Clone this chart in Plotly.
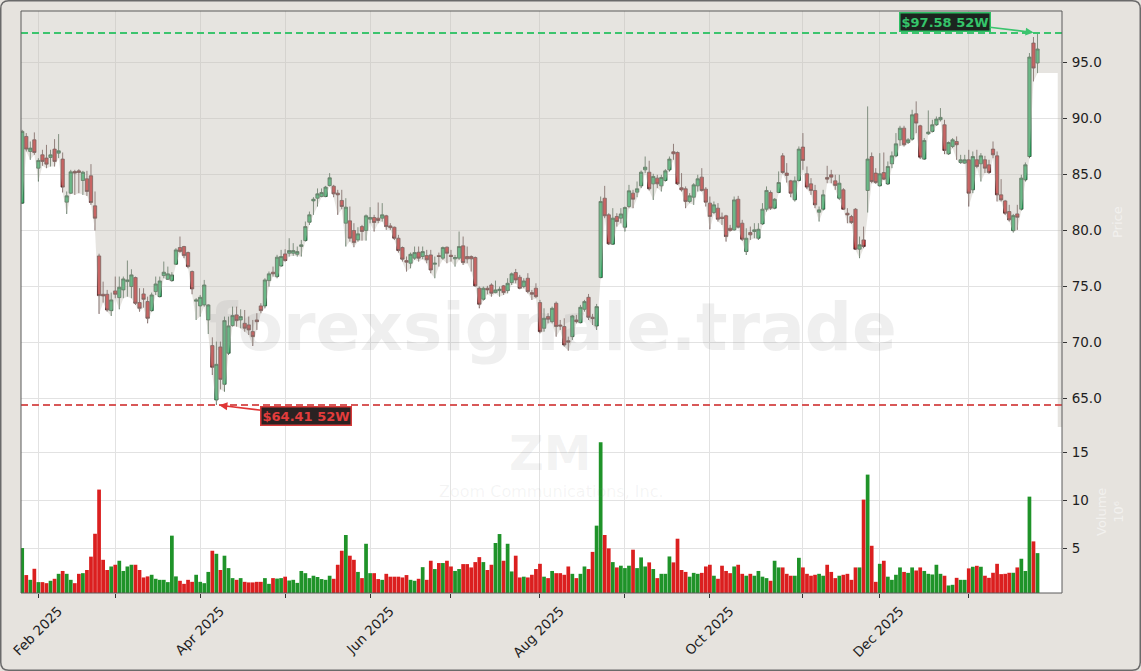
import pandas as pd
import plotly.graph_objects as go

# ---------------- data (ZM daily) ----------------
HOLIDAYS = ["2025-02-17", "2025-04-18", "2025-05-26", "2025-06-19", "2025-07-04",
            "2025-09-01", "2025-11-27", "2025-12-25", "2026-01-01", "2026-01-19"]
dates = pd.bdate_range("2025-01-28", "2026-01-28", freq="C", holidays=HOLIDAYS)

open_ = [
    82.41, 88.36, 87.02, 88.06, 85.53, 86.72, 86.43, 86.48, 87.23, 86.87,
    86.34, 82.50, 83.30, 85.23, 85.29, 84.43, 84.58, 84.85, 82.17, 77.70,
    74.28, 74.28, 72.82, 74.58, 73.98, 74.67, 75.41, 74.97, 75.77, 73.54,
    74.31, 73.63, 72.82, 74.52, 74.07, 75.95, 75.62, 75.50, 76.96, 78.45,
    78.54, 78.00, 76.31, 73.66, 73.24, 73.33, 71.99, 69.70, 64.85, 69.58,
    66.25, 69.02, 71.49, 72.44, 71.99, 71.69, 71.55, 70.95, 71.99, 73.24,
    73.24, 75.50, 76.25, 75.86, 76.81, 77.88, 77.94, 77.94, 77.85, 78.54,
    79.07, 80.71, 82.61, 82.85, 83.00, 83.00, 83.98, 83.92, 83.30, 82.65,
    80.62, 80.83, 79.97, 79.13, 80.32, 79.97, 80.98, 81.13, 81.07, 81.07,
    81.28, 80.38, 80.26, 79.28, 78.45, 77.29, 77.05, 77.50, 78.03, 77.65,
    77.73, 77.79, 76.96, 77.73, 77.50, 78.48, 77.76, 77.44, 77.50, 78.60,
    77.65, 77.65, 77.56, 74.82, 73.84, 74.82, 75.11, 74.43, 74.61, 75.03,
    74.61, 75.32, 76.22, 75.80, 74.97, 75.71, 74.43, 74.82, 73.54, 71.25,
    72.29, 71.84, 73.48, 71.54, 71.40, 70.14, 70.50, 71.99, 71.75, 72.94,
    74.01, 72.23, 71.45, 75.77, 82.85, 81.37, 78.75, 81.22, 81.07, 80.26,
    82.11, 83.30, 83.39, 83.95, 85.38, 85.17, 84.13, 84.64, 83.95, 84.43,
    85.38, 86.99, 86.93, 83.78, 83.69, 82.56, 82.94, 83.95, 84.73, 83.66,
    82.41, 81.57, 81.96, 81.16, 81.28, 80.17, 80.03, 82.76, 80.62, 78.09,
    79.79, 79.88, 79.28, 80.56, 81.87, 83.36, 81.96, 83.36, 86.63, 85.09,
    84.40, 82.71, 84.43, 87.41, 85.03, 84.13, 83.54, 81.60, 81.87, 84.70,
    84.94, 84.40, 82.85, 83.60, 81.51, 81.21, 81.87, 78.30, 79.13, 83.54,
    86.57, 85.09, 83.96, 85.14, 84.13, 85.92, 86.63, 88.06, 89.10, 87.83,
    88.12, 90.38, 89.31, 86.34, 88.60, 88.81, 89.40, 89.85, 89.40, 86.81,
    87.47, 87.91, 86.04, 85.98, 86.28, 83.60, 86.28, 85.92, 86.28, 85.83,
    87.23, 86.63, 83.15, 82.61, 81.66, 79.96, 81.45, 81.87, 84.49, 86.57,
    96.69, 94.91,
]
high = [
    88.95, 88.66, 87.91, 88.72, 86.42, 87.17, 87.61, 87.17, 88.12, 88.57,
    86.93, 83.45, 85.38, 85.38, 85.44, 85.29, 85.29, 85.89, 83.45, 77.90,
    75.41, 74.67, 74.43, 75.86, 75.86, 75.86, 77.29, 76.51, 75.86, 74.82,
    74.82, 74.07, 74.43, 75.86, 75.86, 77.20, 76.75, 76.25, 78.39, 79.43,
    78.60, 78.09, 76.40, 73.93, 74.22, 75.56, 73.40, 70.44, 70.06, 70.06,
    72.29, 72.29, 73.18, 73.18, 72.94, 72.88, 72.29, 71.99, 72.59, 73.48,
    75.71, 76.31, 76.75, 77.80, 78.24, 78.30, 79.28, 78.84, 78.54, 79.13,
    80.77, 81.66, 82.94, 83.72, 83.72, 83.95, 85.09, 84.04, 83.60, 83.60,
    82.85, 82.11, 80.62, 80.26, 80.47, 81.40, 82.05, 81.37, 82.47, 82.41,
    81.37, 80.62, 80.32, 79.58, 78.54, 77.65, 78.00, 78.54, 78.54, 78.54,
    78.24, 78.24, 77.65, 78.00, 78.54, 78.54, 78.24, 77.79, 79.88, 79.43,
    78.54, 77.75, 77.65, 74.97, 74.97, 75.03, 75.26, 75.50, 74.97, 75.11,
    75.71, 76.22, 76.54, 76.01, 75.71, 76.16, 74.67, 75.26, 73.78, 73.03,
    72.59, 73.18, 73.63, 71.99, 72.14, 70.50, 72.44, 72.44, 73.33, 73.78,
    74.31, 72.53, 73.42, 83.00, 83.95, 81.51, 81.96, 81.51, 81.96, 82.11,
    84.04, 83.60, 84.34, 85.32, 86.57, 86.19, 85.03, 84.94, 84.94, 85.44,
    86.57, 87.70, 87.02, 85.09, 83.90, 83.30, 84.19, 84.94, 85.53, 83.84,
    83.00, 82.56, 82.41, 81.57, 81.37, 80.47, 83.00, 83.06, 80.92, 80.17,
    80.32, 80.62, 80.62, 82.41, 83.90, 83.54, 82.85, 85.24, 86.87, 85.98,
    84.49, 84.79, 87.47, 88.66, 85.68, 84.64, 84.04, 82.11, 83.60, 85.74,
    85.38, 84.94, 84.94, 83.75, 81.96, 81.36, 81.96, 79.43, 80.32, 91.04,
    86.93, 85.53, 86.87, 86.93, 86.13, 87.02, 88.66, 89.31, 89.31, 88.21,
    90.74, 91.49, 89.40, 88.21, 90.68, 89.85, 90.14, 90.89, 89.85, 87.91,
    88.21, 88.36, 86.72, 86.72, 87.17, 87.02, 87.17, 86.87, 86.63, 86.28,
    87.91, 87.02, 84.55, 82.70, 82.26, 81.45, 82.26, 84.94, 86.04, 95.80,
    97.23, 97.58,
]
low = [
    82.35, 87.02, 86.28, 86.72, 84.34, 85.74, 85.53, 85.68, 85.68, 86.43,
    83.36, 81.45, 83.24, 83.15, 83.30, 83.15, 83.06, 82.26, 79.97, 72.53,
    73.54, 72.73, 72.35, 73.93, 72.94, 73.93, 74.07, 73.93, 73.33, 72.73,
    73.09, 71.69, 72.73, 74.22, 74.01, 75.71, 75.56, 75.41, 76.90, 78.00,
    77.50, 76.60, 74.28, 71.99, 72.29, 73.18, 70.74, 67.08, 64.41, 65.80,
    65.59, 68.87, 71.40, 71.40, 71.25, 70.95, 70.65, 69.67, 71.10, 72.59,
    73.03, 74.97, 75.86, 75.71, 76.75, 77.20, 77.65, 77.71, 77.65, 77.65,
    78.99, 80.47, 81.37, 82.11, 82.94, 82.94, 83.90, 82.94, 81.37, 81.87,
    78.54, 78.98, 78.48, 78.98, 79.07, 79.07, 80.62, 79.88, 80.62, 80.77,
    80.03, 80.03, 79.13, 78.00, 77.20, 76.31, 76.60, 77.35, 77.20, 77.41,
    77.05, 76.16, 75.71, 76.75, 77.35, 77.05, 77.20, 76.75, 77.35, 76.90,
    77.05, 76.31, 74.97, 73.03, 73.72, 74.28, 74.07, 74.37, 74.07, 74.22,
    74.37, 75.11, 75.26, 74.73, 74.82, 74.37, 73.78, 73.93, 70.80, 70.95,
    71.69, 71.69, 70.50, 71.10, 69.61, 69.25, 70.21, 71.69, 71.69, 72.73,
    71.99, 71.54, 71.10, 75.71, 81.07, 78.69, 78.69, 80.32, 80.62, 79.88,
    81.96, 81.96, 82.94, 83.75, 85.09, 83.54, 82.70, 83.75, 83.45, 84.34,
    85.23, 86.28, 84.04, 83.45, 81.96, 82.41, 82.26, 83.45, 83.45, 82.11,
    80.08, 81.45, 80.77, 80.47, 78.98, 79.88, 79.97, 80.17, 79.04, 77.79,
    79.13, 79.28, 79.13, 80.47, 81.66, 81.81, 81.87, 83.30, 85.03, 84.25,
    82.94, 82.56, 84.34, 85.38, 83.66, 83.15, 81.96, 80.77, 81.75, 84.19,
    84.19, 83.60, 82.70, 81.81, 80.62, 80.56, 78.24, 77.50, 78.39, 81.57,
    84.19, 84.13, 83.90, 84.49, 84.04, 85.53, 86.51, 87.53, 87.47, 87.70,
    88.00, 88.66, 86.34, 86.28, 88.51, 88.72, 89.31, 89.70, 86.78, 86.72,
    87.32, 86.28, 85.92, 85.92, 82.11, 83.30, 85.53, 84.34, 85.09, 85.03,
    86.42, 82.56, 82.56, 81.36, 80.77, 79.79, 80.03, 81.75, 84.34, 86.42,
    93.27, 94.01,
]
close = [
    88.81, 87.23, 87.32, 86.93, 86.22, 86.13, 85.89, 86.72, 86.13, 87.08,
    83.84, 83.06, 85.20, 85.09, 85.15, 85.17, 83.45, 82.47, 81.07, 74.16,
    74.13, 72.88, 73.78, 74.28, 74.91, 75.65, 75.56, 76.01, 73.48, 73.03,
    73.83, 72.14, 74.22, 75.20, 75.47, 76.25, 76.10, 76.01, 78.24, 78.09,
    77.73, 76.75, 74.76, 73.78, 74.01, 75.11, 73.33, 67.77, 68.03, 66.69,
    71.93, 71.46, 72.38, 71.93, 72.29, 71.25, 71.10, 70.50, 71.84, 72.82,
    75.56, 76.10, 76.10, 77.59, 77.65, 77.29, 78.18, 78.18, 78.09, 78.69,
    80.32, 81.37, 82.76, 83.24, 83.36, 83.84, 84.67, 83.24, 83.15, 82.11,
    82.05, 79.28, 78.89, 79.67, 79.88, 81.28, 81.13, 80.68, 80.86, 81.37,
    80.32, 80.23, 79.28, 78.18, 77.41, 77.14, 77.85, 78.00, 77.50, 78.09,
    77.35, 76.45, 77.05, 77.65, 78.45, 77.94, 77.65, 77.56, 78.54, 77.11,
    77.44, 77.44, 75.03, 73.39, 74.82, 74.67, 74.37, 74.67, 74.73, 74.43,
    75.26, 76.10, 75.56, 74.82, 75.47, 74.52, 74.28, 74.07, 70.95, 72.14,
    72.05, 73.03, 71.40, 71.45, 69.76, 70.00, 72.35, 71.84, 73.12, 73.63,
    72.23, 72.11, 73.18, 82.56, 81.28, 78.78, 81.07, 80.77, 81.45, 82.02,
    83.51, 82.76, 83.69, 85.17, 85.62, 83.69, 84.79, 84.13, 84.70, 85.29,
    86.34, 86.81, 84.13, 83.60, 82.56, 83.06, 84.04, 84.58, 83.54, 82.50,
    81.22, 82.26, 80.98, 81.04, 79.43, 79.97, 82.70, 80.26, 79.19, 79.28,
    79.58, 80.03, 80.08, 81.87, 83.54, 81.96, 82.76, 84.25, 85.14, 84.88,
    83.30, 84.40, 87.23, 86.22, 83.84, 83.54, 82.26, 81.81, 83.15, 84.55,
    84.73, 83.99, 84.19, 81.87, 81.36, 80.68, 78.30, 78.69, 78.54, 86.34,
    84.34, 84.25, 85.03, 84.55, 85.68, 86.63, 87.70, 89.10, 87.62, 88.06,
    90.29, 89.55, 86.51, 88.00, 88.75, 89.40, 89.91, 90.06, 87.11, 87.82,
    88.06, 87.62, 86.28, 86.28, 83.30, 86.57, 85.68, 86.63, 85.53, 85.14,
    86.72, 83.15, 82.70, 81.51, 80.92, 81.30, 81.15, 84.64, 85.83, 95.44,
    94.46, 96.16,
]
# volume in millions of shares
volume = [
    5.0, 2.17, 1.67, 2.83, 1.43, 1.43, 1.32, 1.57, 1.78, 2.3,
    2.6, 2.3, 1.67, 1.32, 2.3, 2.37, 2.7, 4.1, 6.5, 11.13,
    3.77, 2.7, 3.07, 3.25, 3.67, 2.6, 3.07, 3.25, 3.25, 2.7,
    1.92, 2.03, 2.2, 1.78, 1.67, 1.67, 1.43, 6.3, 2.03, 1.57,
    1.25, 1.67, 1.46, 2.2, 1.46, 1.32, 2.5, 4.72, 4.4, 2.7,
    4.2, 2.9, 1.85, 1.67, 1.85, 1.46, 1.4, 1.4, 1.46, 1.46,
    1.85, 1.25, 1.85, 1.8, 1.85, 2.0, 1.6, 1.67, 1.35, 2.6,
    2.37, 1.85, 2.1, 1.97, 1.75, 1.67, 2.1, 1.78, 3.25, 4.72,
    6.37, 4.2, 3.77, 2.5, 1.85, 5.45, 2.37, 2.37, 1.75, 1.67,
    2.3, 2.0, 2.0, 2.0, 1.92, 2.17, 1.67, 1.57, 1.78, 3.0,
    1.67, 3.67, 2.8, 3.43, 3.43, 3.67, 3.07, 2.6, 2.8, 3.32,
    3.32, 2.97, 3.53, 4.05, 3.53, 2.7, 3.25, 5.53, 6.47, 3.67,
    5.45, 2.55, 4.2, 1.92, 2.0, 1.92, 2.2, 2.8, 3.35, 2.0,
    1.85, 2.6, 2.37, 2.37, 2.2, 3.07, 2.3, 1.85, 2.3, 3.07,
    2.8, 4.6, 7.35, 16.1, 6.37, 4.97, 3.53, 2.97, 3.15, 2.9,
    3.15, 4.83, 2.9, 4.02, 3.07, 3.5, 2.8, 1.85, 2.3, 2.3,
    4.12, 3.5, 5.98, 2.7, 2.5, 2.0, 2.4, 2.3, 2.4, 3.07,
    3.25, 2.1, 1.78, 3.15, 2.6, 2.37, 3.07, 3.25, 2.3, 2.1,
    2.3, 2.1, 2.6, 2.0, 1.85, 1.57, 3.67, 2.97, 2.97, 2.3,
    2.1, 2.1, 3.98, 2.97, 2.3, 2.1, 2.2, 2.3, 2.1, 3.25,
    2.5, 1.85, 2.1, 2.2, 2.3, 1.67, 2.97, 2.97, 10.08, 12.7,
    5.24, 1.46, 3.35, 3.67, 2.0, 1.67, 2.2, 2.97, 2.5, 2.4,
    2.97, 2.65, 2.97, 2.6, 2.3, 2.23, 3.25, 2.3, 2.1, 1.08,
    1.15, 1.88, 1.67, 1.67, 2.87, 3.04, 3.14, 3.04, 2.1, 1.88,
    2.41, 3.35, 2.27, 2.3, 2.41, 2.41, 2.97, 3.88, 2.6, 10.39,
    5.7, 4.47,
]

TICKER = "ZM"
COMPANY = "Zoom Communications, Inc."
WATERMARK = "forexsignale.trade"

n = len(close)
assert len(dates) == n == len(open_) == len(high) == len(low) == len(volume)
xi = list(range(n))

# ---------------- styling / layout constants ----------------
BG = "#e6e3de"
FILL = "rgba(196,190,180,0.42)"
GRID = "#e2e2e2"
UP_BODY, DN_BODY = "#2bb366", "#cc2328"
UP_EDGE, DN_EDGE = "#25472f", "#472626"
VOL_UP, VOL_DN = "#1f9329", "#db1f1f"
HI_COL, LO_COL = "#3cc46e", "#d85858"

W, H = 1141, 671
ML, MR, MT, MB = 21, 79, 11, 78
PW, PH = W - ML - MR, H - MT - MB
X_LEFT, X_RIGHT = -0.3, 257.05
P_BOTTOM, P_TOP = 62.44, 99.55
V_BOTTOM, V_TOP = 0.29, 17.69
SPLIT = (593 - 427) / PH  # volume panel share of the plot height


def pxx(px):
    return (px - ML) / PW


def pxy(py):
    return (MT + PH - py) / PH


# first trading day of each month -> ticks
mkey = dates.to_period("M")
tick_idx = [i for i in range(1, n) if mkey[i] != mkey[i - 1]]
tick_txt = [dates[i].strftime("%b %Y") if dates[i].month % 2 == 0 else "" for i in tick_idx]

hi_val = max(high)
lo_val = min(low)
hi_idx = high.index(hi_val)
lo_idx = low.index(lo_val)

fig = go.Figure()

# shaded area above the price path (lows), continued flat past the last bar
fill_end = n - 1 + 5
poly_x = [X_LEFT, X_LEFT] + xi + [fill_end, fill_end, X_RIGHT + 1, X_RIGHT + 1]
poly_y = [P_TOP + 1, low[0]] + low + [low[-1], P_BOTTOM, P_BOTTOM, P_TOP + 1]
fig.add_trace(go.Scatter(x=poly_x, y=poly_y, mode="lines", fill="toself",
                         fillcolor=FILL, line=dict(width=0), hoverinfo="skip",
                         showlegend=False, xaxis="x", yaxis="y"))

fig.add_trace(go.Candlestick(
    x=xi, open=open_, high=high, low=low, close=close,
    increasing=dict(fillcolor=UP_BODY, line=dict(color=UP_EDGE, width=0.8)),
    decreasing=dict(fillcolor=DN_BODY, line=dict(color=DN_EDGE, width=0.8)),
    whiskerwidth=0, showlegend=False, xaxis="x", yaxis="y"))

vol_colors = [VOL_UP if c >= o else VOL_DN for o, c in zip(open_, close)]
fig.add_trace(go.Bar(x=xi, y=volume, width=0.92,
                     marker=dict(color=vol_colors, line=dict(width=0)),
                     showlegend=False, xaxis="x", yaxis="y2"))

tickfont = dict(family="DejaVu Sans", size=13.5, color="#1e1e1e")
fig.update_layout(
    width=W, height=H,
    margin=dict(l=ML, r=MR, t=MT, b=MB, autoexpand=False),
    paper_bgcolor=BG, plot_bgcolor="#ffffff",
    font=dict(family="DejaVu Sans", color="#1e1e1e"),
    showlegend=False, hovermode=False,
    boxgap=0.1, boxgroupgap=0.1,
    xaxis=dict(range=[X_LEFT, X_RIGHT], anchor="y2", domain=[0, 1], automargin=False,
               tickmode="array", tickvals=tick_idx, ticktext=tick_txt,
               tickangle=-45, ticks="outside", ticklen=4, tickcolor="#333",
               tickfont=tickfont, showgrid=True, gridcolor=GRID, gridwidth=1,
               zeroline=False, showline=False,
               rangeslider=dict(visible=False),
               ticklabelshift=20, ticklabelstandoff=0),
    yaxis=dict(domain=[SPLIT, 1], range=[P_BOTTOM, P_TOP], side="right", automargin=False,
               anchor="x", tickmode="array", tickvals=[65, 70, 75, 80, 85, 90, 95],
               tickformat=".1f", ticks="outside", ticklen=4, tickcolor="#333",
               tickfont=tickfont, showgrid=True, gridcolor=GRID, zeroline=False,
               showline=False, ticklabelstandoff=2),
    yaxis2=dict(domain=[0, SPLIT], range=[V_BOTTOM, V_TOP], side="right", automargin=False,
                anchor="x", tickmode="array", tickvals=[5, 10, 15],
                ticks="outside", ticklen=4, tickcolor="#333",
                tickfont=tickfont, showgrid=True, gridcolor=GRID, zeroline=False,
                showline=False, ticklabelstandoff=2),
)

# 52-week high / low reference lines
for val, col in ((hi_val, HI_COL), (lo_val, LO_COL)):
    fig.add_shape(type="line", xref="paper", x0=0, x1=1, yref="y", y0=val, y1=val,
                  line=dict(color=col, width=2, dash="7px,4px"), layer="above")

# plot frame
fig.add_shape(type="rect", xref="paper", yref="paper", x0=0, x1=1, y0=0, y1=1,
              line=dict(color="#5a5a5a", width=1), fillcolor="rgba(0,0,0,0)", layer="above")

# rounded outer frame of the figure
L, R, T, B, r = 0.75, W - 0.75, 0.75, H - 0.75, 8
pts = [("M", L + r, T), ("L", R - r, T), ("Q", R, T, R, T + r), ("L", R, B - r),
       ("Q", R, B, R - r, B), ("L", L + r, B), ("Q", L, B, L, B - r), ("L", L, T + r),
       ("Q", L, T, L + r, T)]
path = ""
for p in pts:
    if p[0] == "Q":
        path += f"Q {pxx(p[1]):.5f},{pxy(p[2]):.5f} {pxx(p[3]):.5f},{pxy(p[4]):.5f} "
    else:
        path += f"{p[0]} {pxx(p[1]):.5f},{pxy(p[2]):.5f} "
path += "Z"
fig.add_shape(type="path", path=path, xref="paper", yref="paper",
              line=dict(color="#6a6a6a", width=1.5), layer="above")

center = dict(xanchor="center", yanchor="middle", showarrow=False, xref="paper", yref="paper")

# watermarks
fig.add_annotation(text=f"<b>{WATERMARK}</b>", x=pxx(553), y=pxy(327), **center,
                   font=dict(family="DejaVu Sans", size=66, color="rgba(128,128,128,0.13)"))
fig.add_annotation(text=f"<b>{TICKER}</b>", x=pxx(550), y=pxy(453), **center,
                   font=dict(family="DejaVu Sans", size=48, color="rgba(128,128,128,0.10)"))
fig.add_annotation(text=COMPANY, x=pxx(551), y=pxy(491), **center,
                   font=dict(family="DejaVu Sans", size=16, color="rgba(128,128,128,0.09)"))

# faint axis titles on the right
fig.add_annotation(text="Price", x=pxx(1117), y=pxy(222), textangle=-90, **center,
                   font=dict(family="DejaVu Sans", size=13, color="rgba(255,255,255,0.5)"))
fig.add_annotation(text="Volume<br>10⁶", x=pxx(1110), y=pxy(512), textangle=-90, **center,
                   font=dict(family="DejaVu Sans", size=13, color="rgba(255,255,255,0.5)"))

# 52W labels
fig.add_annotation(text=f"<b>${hi_val:.2f} 52W</b>", x=hi_idx, y=hi_val, xref="x", yref="y",
                   ax=-93, ay=-11.5, showarrow=True, arrowhead=2, arrowsize=1, arrowwidth=1.6,
                   arrowcolor=HI_COL, standoff=4,
                   font=dict(family="DejaVu Sans", size=13, color="#35c46a"),
                   bgcolor="#1c241f", bordercolor="#2fbf65", borderwidth=1.5, borderpad=1)
fig.add_annotation(text=f"<b>${lo_val:.2f} 52W</b>", x=lo_idx, y=lo_val, xref="x", yref="y",
                   ax=90, ay=10.6, showarrow=True, arrowhead=2, arrowsize=1, arrowwidth=1.6,
                   arrowcolor="#e03535", standoff=3,
                   font=dict(family="DejaVu Sans", size=13, color="#e23c3c"),
                   bgcolor="#2a2222", bordercolor="#d83a3a", borderwidth=1.5, borderpad=1)

fig.write_html(
    "out.html",
    config={"displayModeBar": False, "staticPlot": True},
    post_script="document.body.style.margin='0';document.body.style.padding='0';"
                "document.body.style.overflow='hidden';",
)
